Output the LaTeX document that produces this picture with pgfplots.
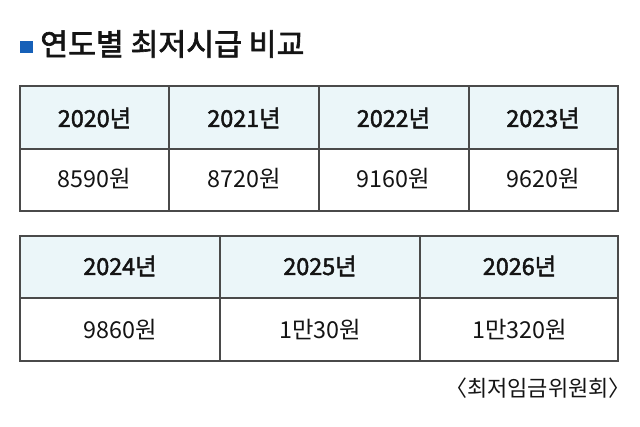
\documentclass[border=0pt]{standalone}
\usepackage{fontspec}
\setmainfont{Noto Sans CJK KR}
\newfontfamily\medfont[FakeBold=2.1]{Noto Sans CJK KR}
\usepackage{pgfplots}
\usepackage{pgfplotstable}
\pgfplotsset{compat=1.18}

\definecolor{headfill}{HTML}{EBF6F9}
\definecolor{gridline}{HTML}{4A4A4A}
\definecolor{titleblue}{HTML}{1660B8}
\definecolor{ink}{HTML}{141414}

% cell centres in pixel units (x to the right, y downwards)
\pgfplotstableread[col sep=comma]{
x,y,label
94.5,118,2020년
244,118,2021년
393.5,118,2022년
543,118,2023년
120,266,2024년
320,266,2025년
519.5,266,2026년
}\headrow

\pgfplotstableread[col sep=comma]{
x,y,label
94.5,179,8590원
244,179,8720원
393.5,179,9160원
543,179,9620원
120,330,9860원
320,330,1만30원
519.5,330,1만320원
}\valuerow

\begin{document}
\begin{tikzpicture}
\begin{axis}[
    scale only axis,
    width=480pt, height=319.5pt,
    xmin=0, xmax=640, ymin=0, ymax=426,
    y dir=reverse,
    hide axis,
    clip=false,
    ]
\path (axis cs:0,0) rectangle (axis cs:640,426);

% title
\fill[titleblue] (axis cs:20,41) rectangle (axis cs:33,53);
\node[anchor=west, font=\fontsize{22.7}{26}\medfont, text=ink, inner sep=0pt]
    at (axis cs:40,44) {연도별 최저시급 비교};

% table 1
\fill[headfill] (axis cs:20,86) rectangle (axis cs:618,149);
\draw[gridline, line width=1.1pt] (axis cs:20,86) rectangle (axis cs:618,211);
\draw[gridline, line width=1.1pt] (axis cs:20,149) -- (axis cs:618,149);
\draw[gridline, line width=1.1pt] (axis cs:169,86) -- (axis cs:169,211);
\draw[gridline, line width=1.1pt] (axis cs:319,86) -- (axis cs:319,211);
\draw[gridline, line width=1.1pt] (axis cs:469,86) -- (axis cs:469,211);

% table 2
\fill[headfill] (axis cs:20,236) rectangle (axis cs:618,298);
\draw[gridline, line width=1.1pt] (axis cs:20,236) rectangle (axis cs:618,361);
\draw[gridline, line width=1.1pt] (axis cs:20,298) -- (axis cs:618,298);
\draw[gridline, line width=1.1pt] (axis cs:220,236) -- (axis cs:220,361);
\draw[gridline, line width=1.1pt] (axis cs:420,236) -- (axis cs:420,361);

\addplot[only marks, mark=none, point meta=explicit symbolic,
    nodes near coords,
    every node near coord/.append style={anchor=center, text=ink,
        font=\fontsize{17.5}{20}\medfont}]
    table[x=x, y=y, meta=label] {\headrow};

\addplot[only marks, mark=none, point meta=explicit symbolic,
    nodes near coords,
    every node near coord/.append style={anchor=center, text=ink,
        font=\fontsize{17.5}{20}\selectfont}]
    table[x=x, y=y, meta=label] {\valuerow};

% source
\node[anchor=east, font=\fontsize{16.5}{19}\selectfont, text=ink, inner sep=0pt]
    at (axis cs:631,388) {〈최저임금위원회〉};
\end{axis}
\end{tikzpicture}
\end{document}
